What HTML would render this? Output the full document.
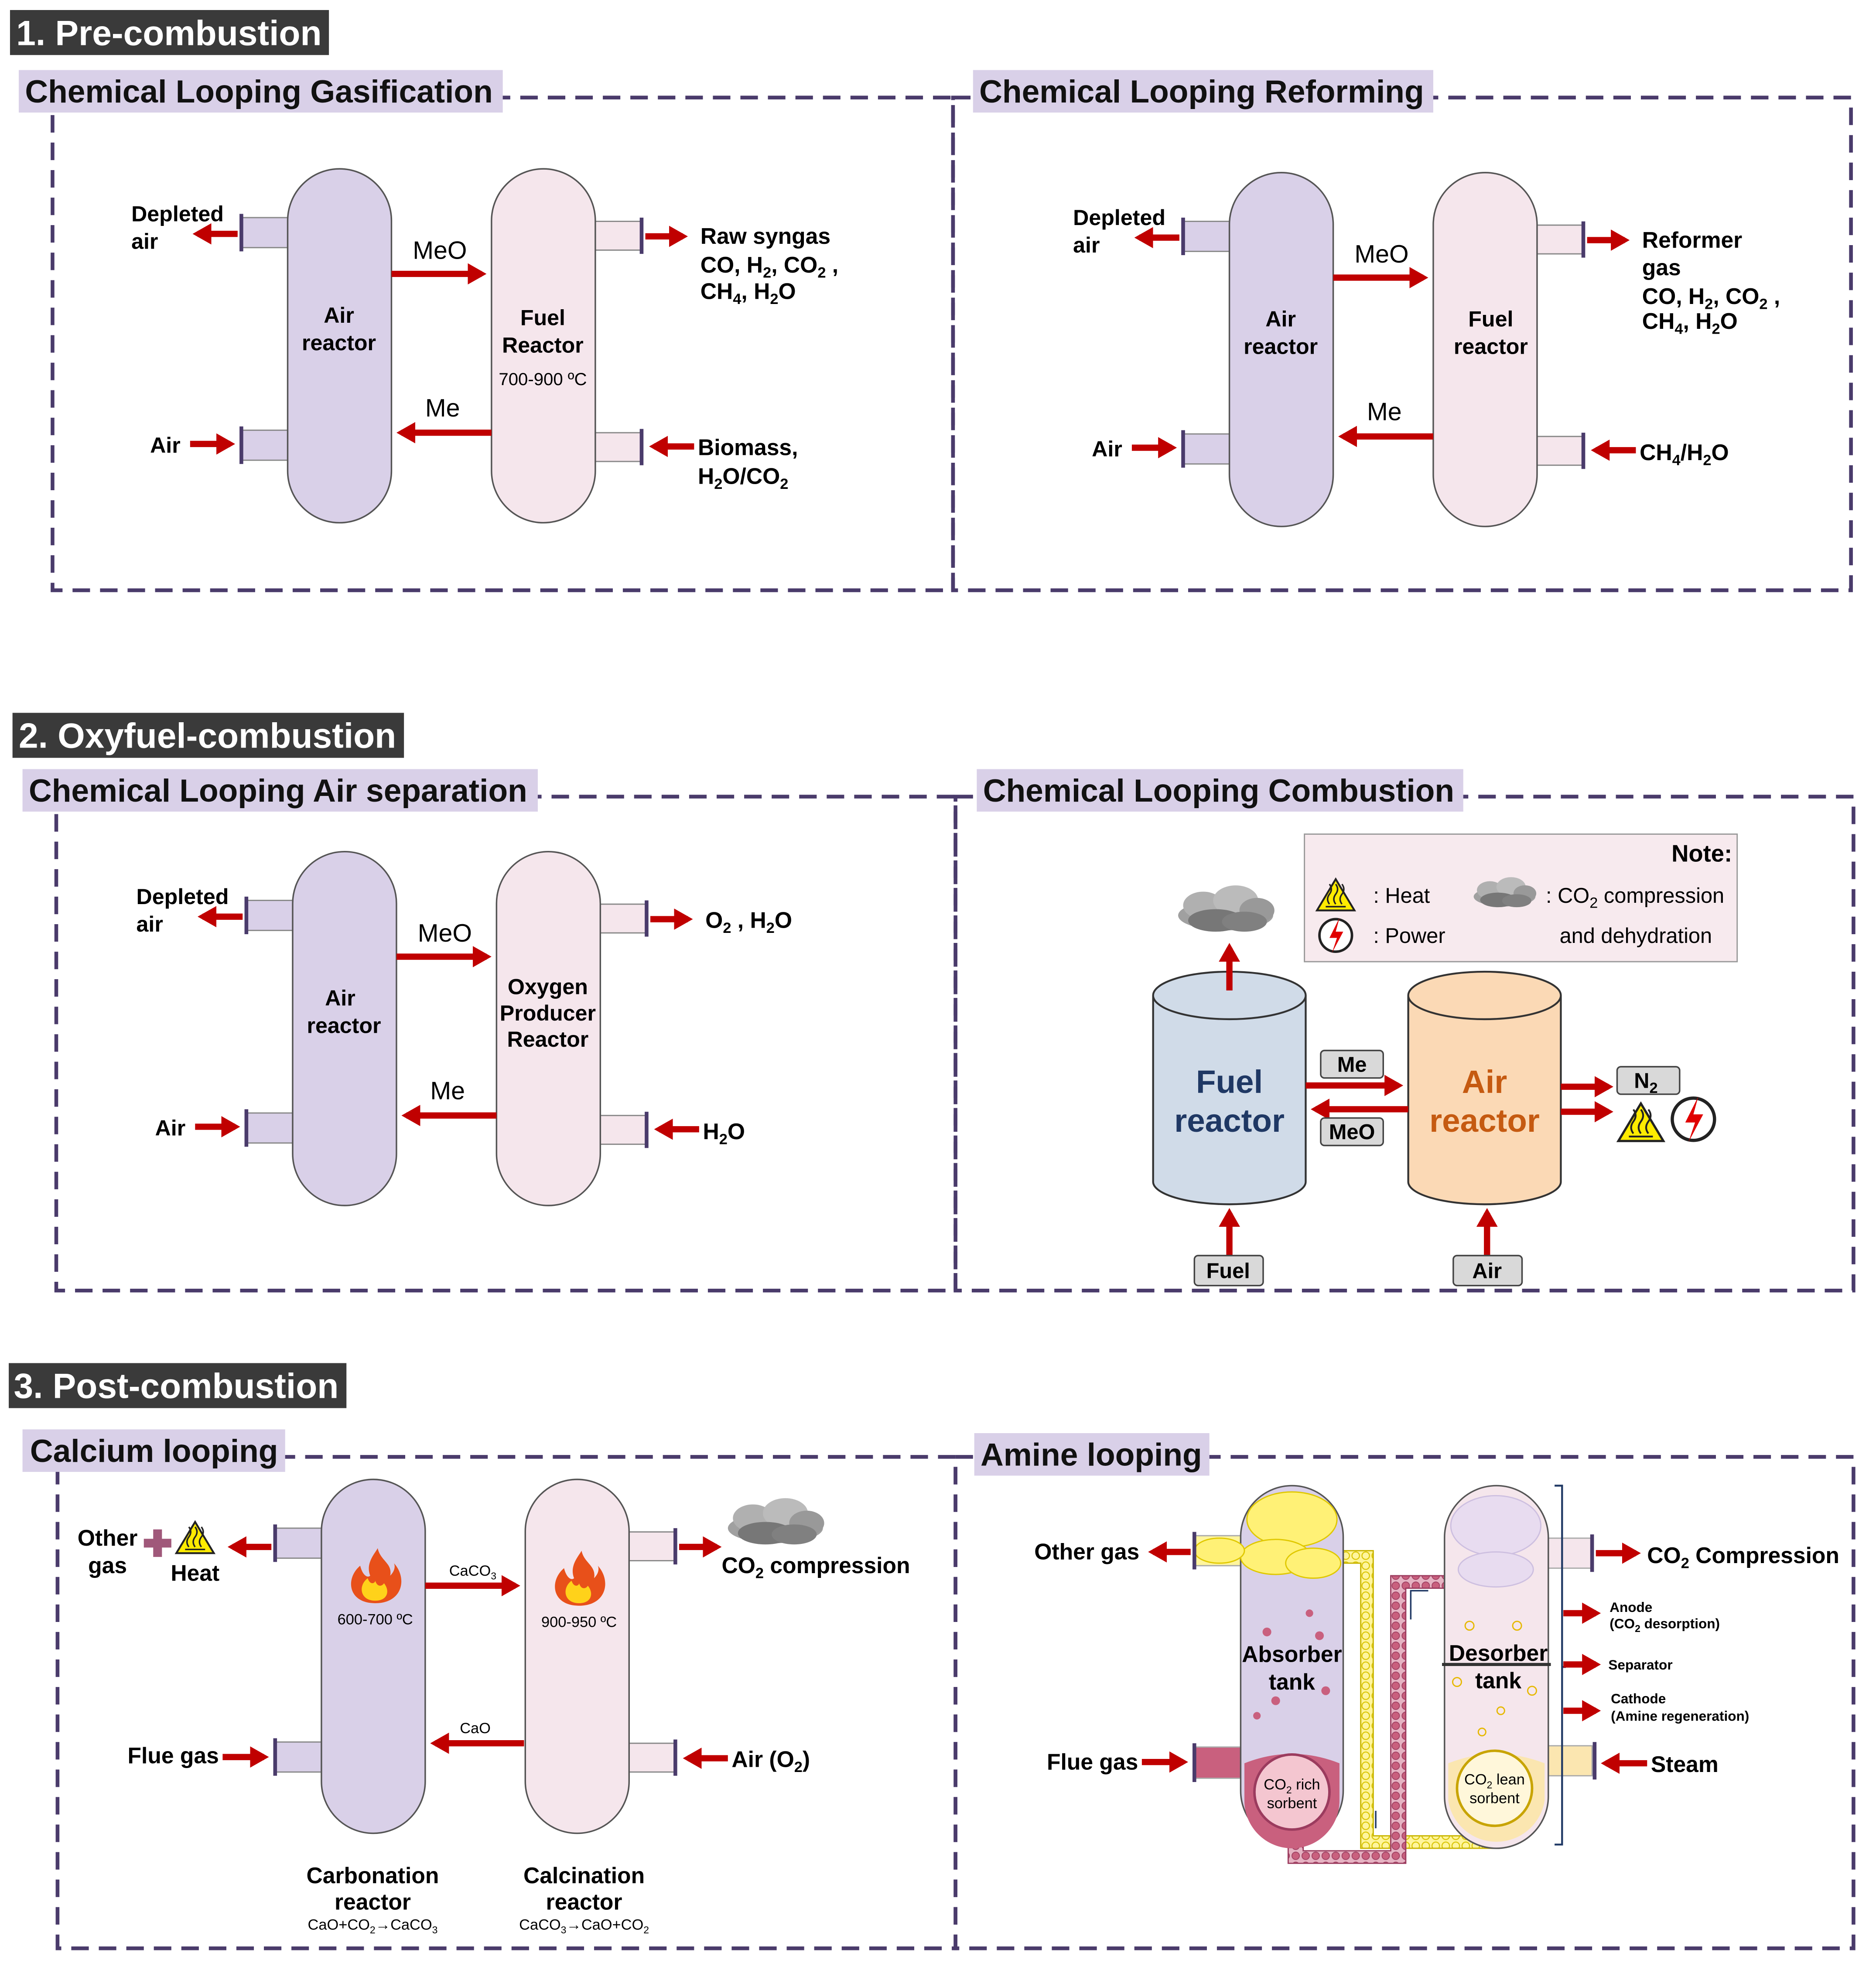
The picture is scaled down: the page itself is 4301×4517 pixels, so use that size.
<!DOCTYPE html>
<html><head><meta charset="utf-8"><style>
html,body{margin:0;padding:0;background:#fff}
svg{display:block}
text{font-family:"Liberation Sans",Arial,sans-serif}
.b{font-weight:bold}
</style></head><body>
<svg width="4301" height="4517" viewBox="0 0 1500 1575.3" xmlns="http://www.w3.org/2000/svg">
<defs>
<marker id="ah" markerWidth="4" markerHeight="4" refX="2.2" refY="2" orient="auto" markerUnits="strokeWidth">
<path d="M0,0.3 L3,2 L0,3.7 z" fill="#c00000"/></marker>
<g id="heat"><path d="M0,-13 L15,12 L-15,12 z" fill="#ffeb00" stroke="#222" stroke-width="1.5"/>
<path d="M-5,7 q-3,-4 0,-8 q3,-4 0,-8 M0,7 q-3,-4 0,-8 q3,-4 0,-8 M5,7 q-3,-4 0,-8 q3,-4 0,-8" fill="none" stroke="#222" stroke-width="1.2"/><line x1="-8" y1="9" x2="8" y2="9" stroke="#222" stroke-width="1.2"/></g>
<g id="pow"><circle r="13" fill="#fff" stroke="#222" stroke-width="2"/><path d="M3,-14 L-5,2 L1,2 L-3,14 L6,-3 L0,-3 z" fill="#e00000"/></g>
<g id="cloud" fill="#8a8a8a"><ellipse cx="0" cy="0" rx="38" ry="12" fill="#a0a0a0"/><ellipse cx="-18" cy="-8" rx="16" ry="11" fill="#b0b0b0"/><ellipse cx="8" cy="-12" rx="18" ry="12" fill="#bbb"/><ellipse cx="25" cy="-4" rx="14" ry="10" fill="#999"/><ellipse cx="-8" cy="4" rx="22" ry="9" fill="#777"/><ellipse cx="15" cy="5" rx="18" ry="8" fill="#808080"/></g>
<g id="flame"><path d="M0,20 C-22,20 -24,0 -12,-10 C-10,-2 -6,0 -4,-2 C-8,-12 0,-20 2,-24 C4,-14 14,-12 12,-2 C16,-6 16,-10 15,-12 C26,0 22,20 0,20 z" fill="#e8501a"/><path d="M0,18 C-12,18 -14,6 -6,0 C-4,6 0,4 0,2 C2,8 6,6 7,4 C12,10 10,18 0,18 z" fill="#ffd21a"/></g>
<pattern id="ybub" width="8" height="8" patternUnits="userSpaceOnUse"><rect width="8" height="8" fill="#fff59d"/><circle cx="4" cy="4" r="3" fill="none" stroke="#d8c400" stroke-width="0.8"/></pattern>
<pattern id="pbub" width="8" height="8" patternUnits="userSpaceOnUse"><rect width="8" height="8" fill="#e6b3c3"/><circle cx="4" cy="4" r="3" fill="#c9607e" stroke="#9b3b5e" stroke-width="0.6"/></pattern>
</defs>
<rect width="1500" height="1575.3" fill="#fff"/>

<g fill="none" stroke="#4a3b6b" stroke-width="3" stroke-dasharray="14 8">
<rect x="42" y="78" width="720" height="394"/><rect x="762" y="78" width="718" height="394"/>
<rect x="45" y="637" width="719" height="395"/><rect x="764" y="637" width="718" height="395"/>
<rect x="46" y="1165" width="718" height="393"/><rect x="764" y="1165" width="718" height="393"/>
</g>

<rect x="8" y="8" width="255" height="36" fill="#3a3a3a"/><text x="13" y="36" font-size="28" class="b" fill="#fff">1. Pre-combustion</text>
<rect x="10" y="570" width="313" height="36" fill="#3a3a3a"/><text x="15" y="598" font-size="28" class="b" fill="#fff">2. Oxyfuel-combustion</text>
<rect x="7" y="1090" width="270" height="36" fill="#3a3a3a"/><text x="11" y="1118" font-size="28" class="b" fill="#fff">3. Post-combustion</text>

<g fill="#d9d0e8"><rect x="15" y="56" width="387" height="34"/><rect x="778" y="56" width="368" height="34"/>
<rect x="18" y="615" width="412" height="34"/><rect x="781" y="615" width="389" height="34"/>
<rect x="18" y="1143" width="210" height="34"/><rect x="779" y="1146" width="188" height="34"/></g>
<g font-size="25.5" class="b" fill="#111">
<text x="20" y="82">Chemical Looping Gasification</text><text x="783" y="82">Chemical Looping Reforming</text>
<text x="23" y="641">Chemical Looping Air separation</text><text x="786" y="641">Chemical Looping Combustion</text>
<text x="24" y="1169">Calcium looping</text><text x="784" y="1172">Amine looping</text></g>

<g id="pair">
<rect x="193" y="174" width="37" height="24" fill="#d9d0e8" stroke="#888"/><rect x="193" y="344" width="37" height="24" fill="#d9d0e8" stroke="#888"/>
<rect x="476" y="177" width="37" height="23" fill="#f5e6ec" stroke="#888"/><rect x="476" y="346" width="37" height="23" fill="#f5e6ec" stroke="#888"/>
<g stroke="#4a3b6b" stroke-width="3"><line x1="193" y1="171" x2="193" y2="201"/><line x1="193" y1="341" x2="193" y2="371"/><line x1="513" y1="174" x2="513" y2="203"/><line x1="513" y1="343" x2="513" y2="372"/></g>
<rect x="230" y="135" width="83" height="283" rx="41.5" fill="#d9d0e8" stroke="#555" stroke-width="1.2"/>
<rect x="393" y="135" width="83" height="283" rx="41.5" fill="#f5e6ec" stroke="#555" stroke-width="1.2"/>
<g stroke="#c00000" stroke-width="5" marker-end="url(#ah)">
<line x1="190" y1="187" x2="158" y2="187"/><line x1="152" y1="355" x2="184" y2="355"/>
<line x1="516" y1="189" x2="546" y2="189"/><line x1="555" y1="357" x2="523" y2="357"/>
<line x1="313" y1="219" x2="385" y2="219"/><line x1="393" y1="346" x2="321" y2="346"/></g>
<text x="330" y="207" font-size="20">MeO</text><text x="340" y="333" font-size="20">Me</text>
<text x="105" y="177" font-size="17.5" class="b">Depleted</text><text x="105" y="199" font-size="17.5" class="b">air</text>
<text x="120" y="362" font-size="17.5" class="b">Air</text>
</g>
<g font-size="17.5" class="b" text-anchor="middle"><text x="271" y="258">Air</text><text x="271" y="280">reactor</text>
<text x="434" y="260">Fuel</text><text x="434" y="282">Reactor</text></g>
<text x="434" y="308" font-size="14" text-anchor="middle">700-900 ºC</text>
<g font-size="18" class="b"><text x="560" y="195">Raw syngas</text>
<text x="560" y="218">CO, H<tspan font-size="12" dy="4">2</tspan><tspan dy="-4">, CO</tspan><tspan font-size="12" dy="4">2</tspan><tspan dy="-4"> ,</tspan></text>
<text x="560" y="239">CH<tspan font-size="12" dy="4">4</tspan><tspan dy="-4">, H</tspan><tspan font-size="12" dy="4">2</tspan><tspan dy="-4">O</tspan></text>
<text x="558" y="364">Biomass,</text>
<text x="558" y="387">H<tspan font-size="12" dy="4">2</tspan><tspan dy="-4">O/CO</tspan><tspan font-size="12" dy="4">2</tspan></text></g>

<use href="#pair" transform="translate(753,3)"/>
<g font-size="17.5" class="b" text-anchor="middle"><text x="1024" y="261">Air</text><text x="1024" y="283">reactor</text>
<text x="1192" y="261">Fuel</text><text x="1192" y="283">reactor</text></g>
<g font-size="18" class="b"><text x="1313" y="198">Reformer</text><text x="1313" y="220">gas</text>
<text x="1313" y="243">CO, H<tspan font-size="12" dy="4">2</tspan><tspan dy="-4">, CO</tspan><tspan font-size="12" dy="4">2</tspan><tspan dy="-4"> ,</tspan></text>
<text x="1313" y="263">CH<tspan font-size="12" dy="4">4</tspan><tspan dy="-4">, H</tspan><tspan font-size="12" dy="4">2</tspan><tspan dy="-4">O</tspan></text>
<text x="1311" y="368">CH<tspan font-size="12" dy="4">4</tspan><tspan dy="-4">/H</tspan><tspan font-size="12" dy="4">2</tspan><tspan dy="-4">O</tspan></text></g>

<use href="#pair" transform="translate(4,546)"/>
<g font-size="17.5" class="b" text-anchor="middle"><text x="272" y="804">Air</text><text x="275" y="826">reactor</text>
<text x="438" y="795">Oxygen</text><text x="438" y="816">Producer</text><text x="438" y="837">Reactor</text></g>
<g font-size="18" class="b"><text x="564" y="742">O<tspan font-size="12" dy="4">2</tspan><tspan dy="-4"> , H</tspan><tspan font-size="12" dy="4">2</tspan><tspan dy="-4">O</tspan></text>
<text x="562" y="911">H<tspan font-size="12" dy="4">2</tspan><tspan dy="-4">O</tspan></text></g>

<!-- CLC -->
<rect x="1043" y="667" width="346" height="102" fill="#f7eaee" stroke="#999"/>
<text x="1385" y="689" font-size="19" class="b" text-anchor="end">Note:</text>
<use href="#heat" transform="translate(1068,716)"/><text x="1098" y="722" font-size="17">: Heat</text>
<use href="#cloud" transform="translate(1203,717) scale(0.65)"/><text x="1236" y="722" font-size="17">: CO<tspan font-size="12" dy="4">2</tspan><tspan dy="-4"> compression</tspan></text>
<text x="1247" y="754" font-size="17">and dehydration</text>
<use href="#pow" transform="translate(1068,748)"/><text x="1098" y="754" font-size="17">: Power</text>

<use href="#cloud" transform="translate(980,732) scale(1)"/>
<path d="M922,796 L922,945 A61,18 0 0 0 1044,945 L1044,796" fill="#d0dbe8" stroke="#333" stroke-width="1.5"/>
<ellipse cx="983" cy="796" rx="61" ry="19" fill="#d0dbe8" stroke="#333" stroke-width="1.5"/>
<path d="M1126,796 L1126,945 A61,18 0 0 0 1248,945 L1248,796" fill="#fbd9b5" stroke="#333" stroke-width="1.5"/>
<ellipse cx="1187" cy="796" rx="61" ry="19" fill="#fbd9b5" stroke="#333" stroke-width="1.5"/>
<g font-size="26" class="b" text-anchor="middle"><text x="983" y="874" fill="#1f3864">Fuel</text><text x="983" y="905" fill="#1f3864">reactor</text>
<text x="1187" y="874" fill="#c55a11">Air</text><text x="1187" y="905" fill="#c55a11">reactor</text></g>
<g stroke="#c00000" stroke-width="5" marker-end="url(#ah)">
<line x1="983" y1="792" x2="983" y2="758"/><line x1="1044" y1="868" x2="1118" y2="868"/><line x1="1126" y1="887" x2="1052" y2="887"/>
<line x1="1248" y1="869" x2="1286" y2="869"/><line x1="1248" y1="889" x2="1286" y2="889"/>
<line x1="983" y1="1004" x2="983" y2="970"/><line x1="1189" y1="1004" x2="1189" y2="970"/></g>
<g fill="#d9d9d9" stroke="#444" stroke-width="1.2"><rect x="1056" y="840" width="50" height="22" rx="3"/><rect x="1056" y="894" width="50" height="22" rx="3"/>
<rect x="1293" y="853" width="50" height="22" rx="3"/><rect x="955" y="1004" width="55" height="24" rx="3"/><rect x="1162" y="1004" width="55" height="24" rx="3"/></g>
<g font-size="17" class="b" text-anchor="middle"><text x="1081" y="857">Me</text><text x="1081" y="911">MeO</text>
<text x="1316" y="870">N<tspan font-size="12" dy="4">2</tspan></text><text x="982" y="1022">Fuel</text><text x="1189" y="1022">Air</text></g>
<use href="#heat" transform="translate(1312,898) scale(1.2)"/><use href="#pow" transform="translate(1354,895) scale(1.3)"/>

<!-- Calcium looping -->
<rect x="220" y="1222" width="37" height="24" fill="#d9d0e8" stroke="#888"/><rect x="220" y="1393" width="37" height="24" fill="#d9d0e8" stroke="#888"/>
<rect x="503" y="1225" width="37" height="23" fill="#f5e6ec" stroke="#888"/><rect x="503" y="1394" width="37" height="23" fill="#f5e6ec" stroke="#888"/>
<g stroke="#4a3b6b" stroke-width="3"><line x1="220" y1="1219" x2="220" y2="1249"/><line x1="220" y1="1390" x2="220" y2="1420"/><line x1="540" y1="1222" x2="540" y2="1251"/><line x1="540" y1="1391" x2="540" y2="1420"/></g>
<rect x="257" y="1183" width="83" height="283" rx="41.5" fill="#d9d0e8" stroke="#555" stroke-width="1.2"/>
<rect x="420" y="1183" width="83" height="283" rx="41.5" fill="#f5e6ec" stroke="#555" stroke-width="1.2"/>
<g stroke="#c00000" stroke-width="5" marker-end="url(#ah)">
<line x1="217" y1="1237" x2="186" y2="1237"/><line x1="178" y1="1405" x2="211" y2="1405"/>
<line x1="543" y1="1237" x2="573" y2="1237"/><line x1="582" y1="1406" x2="550" y2="1406"/>
<line x1="340" y1="1268" x2="412" y2="1268"/><line x1="419" y1="1394" x2="348" y2="1394"/></g>
<path d="M115,1234 h22 M126,1223 v22" stroke="#a0587a" stroke-width="7"/>
<use href="#heat" transform="translate(156,1230)"/>
<use href="#flame" transform="translate(300,1262)"/><use href="#flame" transform="translate(463,1264)"/>
<use href="#cloud" transform="translate(620,1222)"/>
<g font-size="18" class="b"><text x="86" y="1236" text-anchor="middle">Other</text><text x="86" y="1258" text-anchor="middle">gas</text>
<text x="156" y="1264" text-anchor="middle">Heat</text><text x="102" y="1410">Flue gas</text>
<text x="577" y="1258">CO<tspan font-size="12" dy="4">2</tspan><tspan dy="-4"> compression</tspan></text>
<text x="585" y="1413">Air (O<tspan font-size="12" dy="4">2</tspan><tspan dy="-4">)</tspan></text>
<g text-anchor="middle"><text x="298" y="1506">Carbonation</text><text x="298" y="1527">reactor</text><text x="467" y="1506">Calcination</text><text x="467" y="1527">reactor</text></g></g>
<g font-size="12" text-anchor="middle"><text x="300" y="1299">600-700 ºC</text><text x="463" y="1301">900-950 ºC</text>
<text x="378" y="1260">CaCO<tspan font-size="8" dy="3">3</tspan></text><text x="380" y="1386">CaO</text>
<text x="298" y="1543">CaO+CO<tspan font-size="8" dy="3">2</tspan><tspan dy="-3">→CaCO</tspan><tspan font-size="8" dy="3">3</tspan></text>
<text x="467" y="1543">CaCO<tspan font-size="8" dy="3">3</tspan><tspan dy="-3">→CaO+CO</tspan><tspan font-size="8" dy="3">2</tspan></text></g>

<!-- Amine looping -->
<path d="M1074,1240 H1098 V1468 H1197 V1478 H1088 V1250 H1074 z" fill="url(#ybub)" stroke="#c8b400" stroke-width="1"/>
<path d="M1030,1470 H1042 V1480 H1112 V1260 H1155 V1270 H1124 V1490 H1030 z" fill="url(#pbub)" stroke="#9b3b5e" stroke-width="1"/>
<path d="M1128,1295 V1272 H1142" fill="none" stroke="#1f3864" stroke-width="1.2"/>
<path d="M1100,1462 V1448" fill="none" stroke="#1f3864" stroke-width="1.2"/>
<rect x="955" y="1228" width="37" height="24" fill="#fff59d" stroke="#aaa"/><rect x="955" y="1397" width="37" height="25" fill="#c9607e" stroke="#aaa"/>
<rect x="1238" y="1230" width="35" height="24" fill="#f5e6ec" stroke="#aaa"/><rect x="1238" y="1396" width="35" height="24" fill="#fbe6b0" stroke="#aaa"/>
<rect x="992" y="1188" width="82" height="285" rx="41" fill="#d9d0e8" stroke="#555" stroke-width="1.2"/>
<rect x="1155" y="1188" width="83" height="290" rx="41.5" fill="#f5e6ec" stroke="#555" stroke-width="1.2"/>
<g fill="#fff176" stroke="#e0c800" stroke-width="1"><ellipse cx="1033" cy="1215" rx="36" ry="22"/><ellipse cx="1020" cy="1245" rx="28" ry="14"/><ellipse cx="1050" cy="1250" rx="22" ry="12"/><ellipse cx="975" cy="1240" rx="20" ry="10"/></g>
<g fill="#e8dcf0" stroke="#cdbfe0"><ellipse cx="1196" cy="1220" rx="36" ry="24"/><ellipse cx="1196" cy="1255" rx="30" ry="14"/></g>
<path d="M995,1410 Q1033,1395 1071,1410 L1071,1440 A38,38 0 0 1 995,1440 z" fill="#c9607e"/>
<circle cx="1033" cy="1433" r="30" fill="#f4c6d0" stroke="#9b3b5e" stroke-width="2"/>
<path d="M1158,1410 Q1196,1395 1235,1410 L1235,1440 A39,39 0 0 1 1158,1440 z" fill="#fbe6b0"/>
<circle cx="1195" cy="1430" r="30" fill="#fff7da" stroke="#c8a400" stroke-width="2"/>
<g fill="#c9607e"><circle cx="1013" cy="1305" r="3.5"/><circle cx="1055" cy="1308" r="3.5"/><circle cx="1020" cy="1360" r="3.5"/><circle cx="1060" cy="1352" r="3.5"/><circle cx="1047" cy="1290" r="3"/><circle cx="1005" cy="1372" r="3"/></g>
<g fill="none" stroke="#e6b800"><circle cx="1175" cy="1300" r="3.5"/><circle cx="1213" cy="1300" r="3.5"/><circle cx="1165" cy="1345" r="3.5"/><circle cx="1225" cy="1352" r="3.5"/><circle cx="1200" cy="1368" r="3"/><circle cx="1185" cy="1385" r="3"/></g>
<line x1="1153" y1="1331" x2="1240" y2="1331" stroke="#333" stroke-width="2.5"/>
<g stroke="#4a3b6b" stroke-width="3"><line x1="955" y1="1225" x2="955" y2="1255"/><line x1="955" y1="1394" x2="955" y2="1425"/><line x1="1273" y1="1227" x2="1273" y2="1257"/><line x1="1275" y1="1393" x2="1275" y2="1423"/></g>
<path d="M1243,1188 h6 V1475 h-6 M1249,1333 h3" fill="none" stroke="#1f3864" stroke-width="1.5"/>
<g stroke="#c00000" stroke-width="5" marker-end="url(#ah)">
<line x1="952" y1="1241" x2="922" y2="1241"/><line x1="913" y1="1409" x2="946" y2="1409"/>
<line x1="1276" y1="1242" x2="1308" y2="1242"/><line x1="1317" y1="1410" x2="1284" y2="1410"/>
<line x1="1250" y1="1290" x2="1276" y2="1290"/><line x1="1250" y1="1331" x2="1276" y2="1331"/><line x1="1250" y1="1368" x2="1276" y2="1368"/></g>
<g font-size="18" class="b"><text x="827" y="1247">Other gas</text><text x="837" y="1415">Flue gas</text>
<text x="1317" y="1250">CO<tspan font-size="12" dy="4">2</tspan><tspan dy="-4"> Compression</tspan></text><text x="1320" y="1417">Steam</text>
<g text-anchor="middle" font-size="18"><text x="1033" y="1329">Absorber</text><text x="1033" y="1351">tank</text><text x="1198" y="1328">Desorber</text><text x="1198" y="1350">tank</text></g></g>
<g font-size="11" class="b"><text x="1287" y="1289">Anode</text><text x="1287" y="1302">(CO<tspan font-size="8" dy="3">2</tspan><tspan dy="-3"> desorption)</tspan></text>
<text x="1286" y="1335">Separator</text><text x="1288" y="1362">Cathode</text><text x="1288" y="1376">(Amine regeneration)</text></g>
<g font-size="12" text-anchor="middle"><text x="1033" y="1431">CO<tspan font-size="8" dy="3">2</tspan><tspan dy="-3"> rich</tspan></text><text x="1033" y="1446">sorbent</text>
<text x="1195" y="1427">CO<tspan font-size="8" dy="3">2</tspan><tspan dy="-3"> lean</tspan></text><text x="1195" y="1442">sorbent</text></g>
</svg>
</body></html>
